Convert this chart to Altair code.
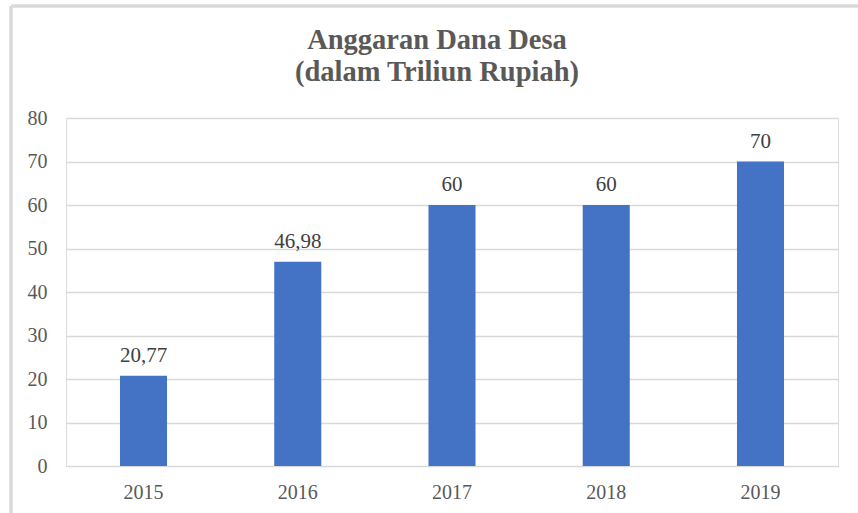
import altair as alt
import pandas as pd

years = ["2015", "2016", "2017", "2018", "2019"]
values = [20.77, 46.98, 60, 60, 70]
labels = ["20,77", "46,98", "60", "60", "70"]
y_ticks = [0, 10, 20, 30, 40, 50, 60, 70, 80]
title_lines = ["Anggaran Dana Desa", "(dalam Triliun Rupiah)"]

df = pd.DataFrame({"year": years, "value": values, "label": labels})

FONT = "Liberation Serif"
GRAY = "#595959"

x = alt.X("year:N", sort=years, title=None,
          scale=alt.Scale(paddingInner=0.695, paddingOuter=0.35),
          axis=alt.Axis(labelAngle=0, labelFont=FONT, labelFontSize=20,
                        labelColor=GRAY, ticks=False, domain=False, labelPadding=16))
y = alt.Y("value:Q", title=None,
          scale=alt.Scale(domain=[0, 80], nice=False),
          axis=alt.Axis(values=y_ticks, labelFont=FONT, labelFontSize=20,
                        labelColor=GRAY, ticks=False, domain=False,
                        gridColor="#d9d9d9", gridWidth=1.6, labelPadding=19))

bars = alt.Chart(df).mark_bar(color="#4472C4").encode(x=x, y=y)
text = alt.Chart(df).mark_text(font=FONT, fontSize=21, color="#404040",
                               baseline="alphabetic", dy=-14).encode(
    x=alt.X("year:N", sort=years), y="value:Q", text="label:N")

border_top = alt.Chart(df).mark_rule(color="#d9d9d9", strokeWidth=2.5).encode(
    x=alt.value(-55), x2=alt.value(900), y=alt.value(-112))
border_left = alt.Chart(df).mark_rule(color="#d9d9d9", strokeWidth=2.5).encode(
    x=alt.value(-55), y=alt.value(-112), y2=alt.value(500))

chart = alt.layer(border_top, border_left, bars, text).properties(
    width=772, height=348,
    padding={"left": 66, "top": 118, "right": 20, "bottom": 47},
    autosize=alt.AutoSizeParams(type="none"),
    title=alt.TitleParams(text=title_lines, font=FONT, fontSize=28.5,
                          fontWeight="bold", color=GRAY, anchor="middle",
                          frame="group", baseline="alphabetic",
                          lineHeight=32.5, dx=-15, offset=-105),
).configure_view(stroke=None).configure(background="white")

chart.save("out.html", embed_options={"renderer": "svg", "actions": False})
